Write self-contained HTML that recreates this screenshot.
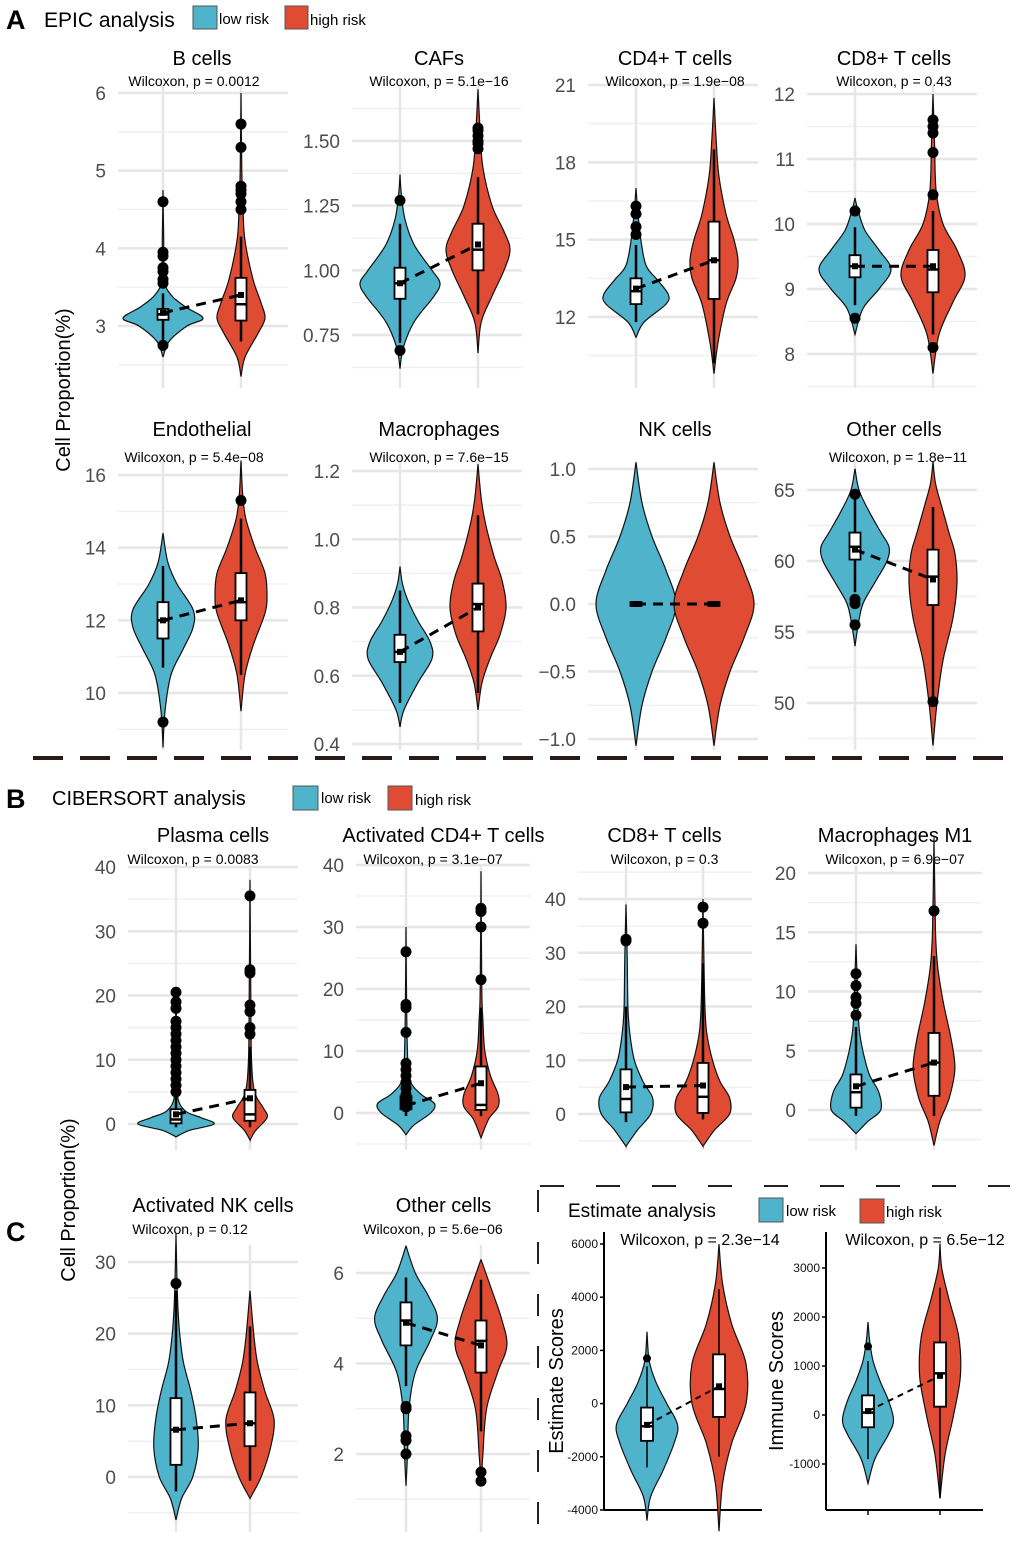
<!DOCTYPE html>
<html><head><meta charset="utf-8">
<style>
html,body{margin:0;padding:0;background:#fff;}
svg{display:block;font-family:"Liberation Sans",Arial,sans-serif;}
</style></head>
<body>
<svg id="fig" width="1020" height="1542" viewBox="0 0 1020 1542" xmlns="http://www.w3.org/2000/svg">
  <g>
    <text x="6" y="29" font-size="27" font-weight="bold">A</text>
    <text x="44" y="27" font-size="21">EPIC  analysis</text>
    <rect x="193" y="6" width="24" height="23" fill="#4eb3cb" stroke="#555" stroke-width="1"/>
    <text x="219" y="24" font-size="15">low risk</text>
    <rect x="285" y="6" width="23" height="23" fill="#e04b33" stroke="#555" stroke-width="1"/>
    <text x="310" y="25" font-size="15">high risk</text>
  </g>
  <text transform="translate(70,390) rotate(-90)" text-anchor="middle" font-size="20">Cell Proportion(%)</text>
  <line x1="33" y1="758" x2="1015" y2="758" stroke="#2a1a1a" stroke-width="4" stroke-dasharray="30 17"/>

  <g>
    <text x="6" y="808" font-size="27" font-weight="bold">B</text>
    <text x="52" y="805" font-size="20">CIBERSORT analysis</text>
    <rect x="293" y="786" width="25" height="24" fill="#4eb3cb" stroke="#555" stroke-width="1"/>
    <text x="321" y="803" font-size="15">low risk</text>
    <rect x="388" y="786" width="24" height="24" fill="#e04b33" stroke="#555" stroke-width="1"/>
    <text x="415" y="805" font-size="15">high risk</text>
  </g>
  <text transform="translate(75,1200) rotate(-90)" text-anchor="middle" font-size="20">Cell Proportion(%)</text>
  <text x="6" y="1241" font-size="27" font-weight="bold">C</text>

  <line x1="540" y1="1186" x2="1010" y2="1186" stroke="#222" stroke-width="2" stroke-dasharray="24 32"/>
  <line x1="538" y1="1190" x2="538" y2="1532" stroke="#222" stroke-width="2" stroke-dasharray="22 30"/>
  <g>
    <text x="568" y="1217" font-size="19">Estimate analysis</text>
    <rect x="759" y="1198" width="24" height="24" fill="#4eb3cb" stroke="#555" stroke-width="1"/>
    <text x="786" y="1216" font-size="15">low risk</text>
    <rect x="860" y="1199" width="24" height="24" fill="#e04b33" stroke="#555" stroke-width="1"/>
    <text x="886" y="1217" font-size="15">high risk</text>
  </g>
  <g id="panels"></g>
</svg>
<script>
const bcells_ticks = [3,4,5,6];
const bcells_low_violin = [[2.6,0],[2.8,0.15],[3.0,0.6],[3.1,1.0],[3.25,0.55],[3.4,0.2],[3.6,0.04],[4.2,0.015],[4.75,0]];
const bcells_high_violin = [[2.35,0],[2.6,0.1],[2.9,0.42],[3.1,0.6],[3.3,0.5],[3.6,0.3],[4.1,0.1],[4.5,0.05],[5.0,0.02],[6.0,0]];
const bcells_low_box = [2.82,3.08,3.15,3.22,3.42];
const bcells_high_box = [2.8,3.07,3.28,3.62,4.15];
const bcells_low_out = [2.75,3.55,3.6,3.7,3.75,3.9,3.95,4.6];
const bcells_high_out = [4.5,4.6,4.7,4.75,4.8,5.3,5.6];
const bcells_means = [3.17,3.4];

const cafs_ticks = [0.75,1.00,1.25,1.50];
const cafs_low_violin = [[0.62,0],[0.7,0.08],[0.8,0.35],[0.9,0.85],[0.95,1.0],[1.0,0.8],[1.1,0.35],[1.2,0.12],[1.3,0.03],[1.37,0]];
const cafs_high_violin = [[0.68,0],[0.8,0.08],[0.9,0.35],[1.0,0.65],[1.08,0.8],[1.15,0.65],[1.25,0.35],[1.4,0.12],[1.55,0.05],[1.7,0]];
const cafs_low_box = [0.72,0.89,0.95,1.01,1.18];
const cafs_high_box = [0.83,1.0,1.08,1.18,1.36];
const cafs_low_out = [0.69,1.27];
const cafs_high_out = [1.47,1.49,1.5,1.52,1.54,1.55];
const cafs_means = [0.95,1.1];

const cd4_ticks = [12,15,18,21];
const cd4_low_violin = [[11.2,0],[11.8,0.2],[12.5,0.75],[12.9,0.8],[13.5,0.5],[14,0.25],[15,0.12],[16,0.05],[17,0]];
const cd4_high_violin = [[9.8,0],[11,0.1],[12.5,0.3],[13.5,0.55],[14.2,0.6],[15,0.5],[16,0.3],[17.5,0.12],[19,0.05],[20.5,0]];
const cd4_low_box = [11.8,12.5,13.0,13.5,14.8];
const cd4_high_box = [10.2,12.7,14.2,15.7,18.5];
const cd4_low_out = [15.2,15.5,16.0,16.3];
const cd4_high_out = [];
const cd4_means = [13.1,14.2];

const cd8_ticks = [8,9,10,11,12];
const cd8_low_violin = [[8.3,0],[8.7,0.2],[9.0,0.6],[9.3,0.9],[9.6,0.6],[9.9,0.25],[10.2,0.08],[10.4,0]];
const cd8_high_violin = [[7.7,0],[8.3,0.15],[8.8,0.5],[9.2,0.8],[9.6,0.6],[10.0,0.25],[10.5,0.08],[11.2,0.04],[12,0]];
const cd8_low_box = [8.75,9.18,9.35,9.52,9.95];
const cd8_high_box = [8.3,8.95,9.3,9.6,10.2];
const cd8_low_out = [8.55,10.2];
const cd8_high_out = [8.1,10.45,11.1,11.4,11.5,11.6];
const cd8_means = [9.35,9.35];

const endo_ticks = [10,12,14,16];
const endo_low_violin = [[8.5,0],[9.5,0.05],[10.5,0.2],[11.2,0.5],[11.8,0.75],[12.3,0.75],[13,0.35],[13.6,0.12],[14.4,0]];
const endo_high_violin = [[9.5,0],[10.5,0.1],[11.3,0.3],[12.2,0.6],[12.7,0.65],[13.3,0.6],[14,0.35],[14.8,0.12],[15.5,0.04],[16.4,0]];
const endo_low_box = [10.7,11.5,12.0,12.5,13.5];
const endo_high_box = [10.5,12.0,12.5,13.3,14.8];
const endo_low_out = [9.2];
const endo_high_out = [15.3];
const endo_means = [12.0,12.55];

const macro_ticks = [0.4,0.6,0.8,1.0,1.2];
const macro_low_violin = [[0.45,0],[0.5,0.1],[0.58,0.45],[0.65,0.8],[0.7,0.75],[0.76,0.45],[0.82,0.2],[0.87,0.06],[0.92,0]];
const macro_high_violin = [[0.5,0],[0.58,0.1],[0.65,0.3],[0.72,0.55],[0.8,0.7],[0.88,0.6],[0.95,0.4],[1.05,0.18],[1.12,0.08],[1.22,0]];
const macro_low_box = [0.52,0.64,0.67,0.72,0.85];
const macro_high_box = [0.55,0.73,0.81,0.87,1.07];
const macro_low_out = [];
const macro_high_out = [];
const macro_means = [0.67,0.8];

const nk_ticks = [-1.0,-0.5,0.0,0.5,1.0];
const nk_low_violin = [[-1.05,0],[-0.75,0.15],[-0.5,0.4],[-0.25,0.75],[0,1.0],[0.25,0.75],[0.5,0.4],[0.75,0.15],[1.05,0]];
const nk_high_violin = [[-1.05,0],[-0.75,0.15],[-0.5,0.4],[-0.25,0.75],[0,1.0],[0.25,0.75],[0.5,0.4],[0.75,0.15],[1.05,0]];
const nk_low_box = [0,0,0,0,0];
const nk_high_box = [0,0,0,0,0];
const nk_low_out = [];
const nk_high_out = [];
const nk_means = [0,0];

const othA_ticks = [50,55,60,65];
const othA_low_violin = [[54,0],[55.5,0.08],[57,0.2],[58.5,0.5],[60,0.8],[61,0.85],[62,0.65],[63.5,0.35],[65,0.1],[66.5,0]];
const othA_high_violin = [[47,0],[50,0.1],[53,0.25],[56,0.5],[58.5,0.6],[60.5,0.55],[62,0.4],[64,0.2],[65.5,0.06],[67,0]];
const othA_low_box = [57.8,60.1,61.0,62.0,64.5];
const othA_high_box = [50.5,56.9,58.9,60.8,63.8];
const othA_low_out = [55.5,57.0,57.3,64.7];
const othA_high_out = [50.1];
const othA_means = [60.8,58.7];

const plasma_ticks = [0,10,20,30,40];
const plasma_low_violin = [[-2,0],[-1,0.35],[0,1.0],[1,0.65],[2,0.25],[4,0.05],[8,0.03],[14,0.015],[21,0]];
const plasma_high_violin = [[-2.5,0],[-1,0.15],[1,0.45],[2.5,0.35],[5,0.12],[10,0.04],[20,0.02],[38,0]];
const plasma_low_box = [-0.5,0.1,0.7,2.3,5];
const plasma_high_box = [-0.5,0.5,1.5,5.3,12];
const plasma_low_out = [5,6,7,8,9,10,11,12,13,14,15,16,18,19,20.5];
const plasma_high_out = [14,15,17.5,18.5,23.5,24,35.5];
const plasma_means = [1.5,4];

const act4_ticks = [0,10,20,30,40];
const act4_low_violin = [[-3.5,0],[-2,0.2],[0,0.65],[1.5,0.75],[3,0.4],[5,0.12],[8,0.05],[15,0.02],[30,0]];
const act4_high_violin = [[-4,0],[-1,0.2],[1,0.45],[3,0.45],[6,0.25],[10,0.1],[15,0.05],[20,0.02],[39,0]];
const act4_low_box = [-0.5,0.6,1.5,2.7,4.5];
const act4_high_box = [-0.5,0.5,1.3,7.5,17];
const act4_low_out = [1,2,3,4,5,6,7,8,13,17,17.5,26];
const act4_high_out = [21.5,30,32.5,33];
const act4_means = [1.2,4.8];

const cd8b_ticks = [0,10,20,30,40];
const cd8b_low_violin = [[-6,0],[-3,0.3],[0,0.65],[3,0.7],[6,0.45],[10,0.22],[15,0.1],[20,0.05],[30,0.03],[39,0]];
const cd8b_high_violin = [[-6,0],[-3,0.3],[0,0.7],[3,0.7],[6,0.45],[10,0.25],[15,0.1],[20,0.05],[30,0.02],[40,0]];
const cd8b_low_box = [-1.5,0.3,2.8,8.3,20];
const cd8b_high_box = [-1,0.2,3.2,9.5,28];
const cd8b_low_out = [32.2,32.5];
const cd8b_high_out = [35.5,38.5];
const cd8b_means = [5,5.3];

const m1_ticks = [0,5,10,15,20];
const m1_low_violin = [[-2,0],[-1,0.3],[0,0.65],[1.5,0.6],[3,0.35],[5,0.18],[7,0.08],[10,0.04],[14,0]];
const m1_high_violin = [[-3,0],[-1,0.15],[1,0.4],[3.5,0.55],[6,0.45],[9,0.25],[12,0.1],[15,0.04],[23,0]];
const m1_low_box = [-0.5,0.2,1.5,3,7];
const m1_high_box = [-0.5,1.2,4,6.5,13];
const m1_low_out = [8,9,9.5,10.5,11.5];
const m1_high_out = [16.8];
const m1_means = [2,4];

const actnk_ticks = [0,10,20,30];
const actnk_low_violin = [[-6,0],[-3,0.15],[0,0.45],[4,0.6],[8,0.55],[12,0.4],[16,0.2],[20,0.1],[25,0.04],[34,0]];
const actnk_high_violin = [[-3,0],[0,0.3],[4,0.55],[8,0.65],[12,0.4],[16,0.2],[20,0.1],[26,0]];
const actnk_low_box = [-2,1.7,6.6,11,26];
const actnk_high_box = [-0.5,4.3,7.5,11.8,21];
const actnk_low_out = [27];
const actnk_high_out = [];
const actnk_means = [6.6,7.5];

const othC_ticks = [2,4,6];
const othC_low_violin = [[1.3,0],[2,0.04],[3,0.08],[3.8,0.25],[4.5,0.65],[5,0.85],[5.5,0.6],[6,0.25],[6.6,0]];
const othC_high_violin = [[1.3,0],[2,0.05],[3,0.15],[3.8,0.45],[4.4,0.7],[5,0.55],[5.6,0.3],[6.3,0]];
const othC_low_box = [3.5,4.4,4.95,5.35,5.9];
const othC_high_box = [2.5,3.8,4.5,4.95,5.85];
const othC_low_out = [2,2.3,2.4,3,3.05];
const othC_high_out = [1.4,1.6];
const othC_means = [4.9,4.4];

const est_ticks = [-4000,-2000,0,2000,4000,6000];
const est_low_violin = [[-4400,0],[-3500,0.1],[-2500,0.45],[-1500,0.75],[-800,0.85],[0,0.55],[800,0.25],[1600,0.06],[2700,0]];
const est_high_violin = [[-4800,0],[-3000,0.1],[-1500,0.35],[0,0.75],[1500,0.75],[3000,0.35],[4500,0.1],[6000,0]];
const est_low_box = [-2400,-1400,-850,-150,1400];
const est_high_box = [-2000,-500,550,1850,4300];
const est_low_out = [1700];
const est_high_out = [];
const est_means = [-800,650];

const imm_ticks = [-1000,0,1000,2000,3000];
const imm_low_violin = [[-1400,0],[-900,0.2],[-400,0.6],[-100,0.75],[300,0.6],[700,0.35],[1100,0.15],[1500,0.05],[1900,0]];
const imm_high_violin = [[-1700,0],[-800,0.15],[0,0.4],[800,0.6],[1600,0.55],[2400,0.25],[3000,0.05],[3500,0]];
const imm_low_box = [-900,-250,50,400,1100];
const imm_high_box = [-1700,170,850,1480,2600];
const imm_low_out = [1400];
const imm_high_out = [];
const imm_means = [80,800];

const NS='http://www.w3.org/2000/svg';
const root=document.getElementById('panels');
const BLUE='#4eb3cb', RED='#e04b33';
function el(tag,attrs,parent){const e=document.createElementNS(NS,tag);for(const k in attrs)e.setAttribute(k,attrs[k]);(parent||root).appendChild(e);return e;}
function fmt(t,dec){return t<0?'\u2212'+Math.abs(t).toFixed(dec):t.toFixed(dec);}
function smoothPath(pts){
  let d='M'+pts[0][0]+','+pts[0][1];
  for(let i=0;i<pts.length-1;i++){
    const p0=pts[i-1]||pts[i],p1=pts[i],p2=pts[i+1],p3=pts[i+2]||p2;
    const c1=[p1[0]+(p2[0]-p0[0])/6,p1[1]+(p2[1]-p0[1])/6];
    const c2=[p2[0]-(p3[0]-p1[0])/6,p2[1]-(p3[1]-p1[1])/6];
    d+=' C'+c1[0].toFixed(1)+','+c1[1].toFixed(1)+' '+c2[0].toFixed(1)+','+c2[1].toFixed(1)+' '+p2[0].toFixed(1)+','+p2[1].toFixed(1);
  }
  return d;
}
function panel(cfg){
  const g=el('g',{});
  
  
  const t=cfg.ticks;
  const y=v=>cfg.yBot+(v-t[0])*(cfg.yTop-cfg.yBot)/(t[t.length-1]-t[0]);
  const step=t[1]-t[0];
  if(cfg.classic){
    const ax=el('line',{x1:cfg.x0,y1:cfg.gTop,x2:cfg.x0,y2:cfg.gBot,stroke:'#000','stroke-width':2},g);
    
    
    const bx=el('line',{x1:cfg.x0,y1:cfg.gBot,x2:cfg.x1,y2:cfg.gBot,stroke:'#000','stroke-width':2},g);
    
    
    t.forEach(v=>{
      el('line',{x1:cfg.x0-4,y1:y(v),x2:cfg.x0,y2:y(v),stroke:'#000','stroke-width':1.5},g);
      const tl=el('text',{x:cfg.x0-6,y:y(v)+4,'text-anchor':'end','font-size':12,fill:'#111'},g);
      tl.textContent=(v<0?'-':'')+Math.abs(v);
      
      
    });
    [cfg.cxL,cfg.cxH].forEach(c=>el('line',{x1:c,y1:cfg.gBot,x2:c,y2:cfg.gBot+5,stroke:'#000','stroke-width':1.5},g));
    const yt=el('text',{transform:'translate('+cfg.ytX+','+((cfg.gTop+cfg.gBot)/2+10)+') rotate(-90)','text-anchor':'middle','font-size':20},g);
    yt.textContent=cfg.ytitle;
    
    
  } else {
    for(let v=t[0]-step/2; v<=t[t.length-1]+step/2+1e-9; v+=step){
      const yy=y(v); if(yy<cfg.gTop||yy>cfg.gBot) continue;
      el('line',{x1:cfg.x0,y1:yy,x2:cfg.x1,y2:yy,stroke:'#f0f0f0','stroke-width':1.5},g);
    }
    t.forEach(v=>{
      const gl=el('line',{x1:cfg.x0,y1:y(v),x2:cfg.x1,y2:y(v),stroke:'#e6e6e6','stroke-width':2.5},g);
      
      
      const tl=el('text',{x:cfg.x0-12,y:y(v)+7,'text-anchor':'end','font-size':19,fill:'#4d4d4d'},g);
      tl.textContent=fmt(v,cfg.dec);
      
      
    });
    [cfg.cxL,cfg.cxH].forEach(c=>el('line',{x1:c,y1:cfg.gTop,x2:c,y2:cfg.gBot,stroke:'#e6e6e6','stroke-width':2.5},g));
    const ti=el('text',{x:(cfg.cxL+cfg.cxH)/2,y:cfg.titleY,'text-anchor':'middle','font-size':20},g);
    ti.textContent=cfg.title;
    
    
  }
  if(cfg.p){
    const pt=el('text',{x:cfg.pX||(cfg.cxL+cfg.cxH)/2,y:cfg.pY,'text-anchor':'middle','font-size':cfg.classic?16:14},g);
    pt.textContent='Wilcoxon, p = '+cfg.p;
    
    
  }
  const groups=[[cfg.cxL,cfg.lowV,cfg.lowB,cfg.lowO,BLUE,'low'],[cfg.cxH,cfg.highV,cfg.highB,cfg.highO,RED,'high']];
  groups.forEach(([cx,V,B,O,col,nm])=>{
    const right=V.map(s=>[cx+s[1]*cfg.W,y(s[0])]);
    const left=V.slice().reverse().map(s=>[cx-s[1]*cfg.W,y(s[0])]);
    const d=smoothPath(right)+' '+smoothPath(left).replace('M','L')+' Z';
    const vp=el('path',{d:d,fill:col,stroke:'#111','stroke-width':1.2},g);
    
    
    el('line',{x1:cx,y1:y(B[0]),x2:cx,y2:y(B[4]),stroke:'#000','stroke-width':cfg.classic?1.5:2.5},g);
    const bw=cfg.classic?12:11;
    const bh=Math.max(y(B[1])-y(B[3]),4);
    const br=el('rect',{x:cx-bw/2,y:Math.min(y(B[3]),y(B[2])-2),width:bw,height:bh,fill:'#fff',stroke:'#000','stroke-width':1.8},g);
    
    
    el('line',{x1:cx-bw/2,y1:y(B[2]),x2:cx+bw/2,y2:y(B[2]),stroke:'#000','stroke-width':2.5},g);
    O.forEach(o=>{
      const c=el('circle',{cx:cx,cy:y(o),r:cfg.classic?4:5.5,fill:'#000'},g);
      
      
    });
  });
  const ml=el('line',{x1:cfg.cxL,y1:y(cfg.means[0]),x2:cfg.cxH,y2:y(cfg.means[1]),stroke:'#000','stroke-width':cfg.classic?2:3,'stroke-dasharray':cfg.classic?'6 5':'10 7'},g);
  
  
  cfg.means.forEach((m,i)=>el('rect',{x:[cfg.cxL,cfg.cxH][i]-3,y:y(m)-3,width:6,height:6,fill:'#000'},g));
}
function P(id,title,p,ticks,dec,pre,layout){
  panel(Object.assign({id,title,p,ticks,dec,
    lowV:eval(pre+'_low_violin'),highV:eval(pre+'_high_violin'),
    lowB:eval(pre+'_low_box'),highB:eval(pre+'_high_box'),
    lowO:eval(pre+'_low_out'),highO:eval(pre+'_high_out'),means:eval(pre+'_means')},layout));
}
const rowA1={gTop:85,gBot:388,titleY:65,pY:86,W:40};
const rowA2={gTop:462,gBot:750,titleY:436,pY:462,W:40};
const rowB={gTop:865,gBot:1150,titleY:842,pY:864,W:38};
const rowC={gTop:1245,gBot:1532,titleY:1212,pY:1234,W:37};
P('b-cells','B cells','0.0012',bcells_ticks,0,'bcells',Object.assign({},rowA1,{x0:118,x1:288,cxL:163,cxH:241,yBot:326,yTop:93,pX:194}));
P('cafs','CAFs','5.1e\u221216',cafs_ticks,2,'cafs',Object.assign({},rowA1,{x0:352,x1:522,cxL:400,cxH:478,yBot:335,yTop:141}));
P('cd4-t-cells','CD4+ T cells','1.9e\u221208',cd4_ticks,0,'cd4',Object.assign({},rowA1,{x0:588,x1:758,cxL:636,cxH:714,yBot:317,yTop:85}));
P('cd8-t-cells','CD8+ T cells','0.43',cd8_ticks,0,'cd8',Object.assign({},rowA1,{x0:807,x1:977,cxL:855,cxH:933,yBot:354,yTop:94}));
P('endothelial','Endothelial','5.4e\u221208',endo_ticks,0,'endo',Object.assign({},rowA2,{x0:118,x1:288,cxL:163,cxH:241,yBot:693,yTop:475,pX:194}));
P('macrophages','Macrophages','7.6e\u221215',macro_ticks,1,'macro',Object.assign({},rowA2,{x0:352,x1:522,cxL:400,cxH:478,yBot:744,yTop:471}));
P('nk-cells','NK cells','',nk_ticks,1,'nk',Object.assign({},rowA2,{x0:588,x1:758,cxL:636,cxH:714,yBot:739,yTop:469}));
P('other-cells-epic','Other cells','1.8e\u221211',othA_ticks,0,'othA',Object.assign({},rowA2,{x0:807,x1:977,cxL:855,cxH:933,yBot:703,yTop:490,pX:898}));
P('plasma-cells','Plasma cells','0.0083',plasma_ticks,0,'plasma',Object.assign({},rowB,{x0:128,x1:298,cxL:176,cxH:250,yBot:1124,yTop:867,pX:193}));
P('activated-cd4-t-cells','Activated CD4+ T cells','3.1e\u221207',act4_ticks,0,'act4',Object.assign({},rowB,{x0:356,x1:530,cxL:406,cxH:481,yBot:1113,yTop:865,pX:433}));
P('cd8-t-cells-cibersort','CD8+ T cells','0.3',cd8b_ticks,0,'cd8b',Object.assign({},rowB,{x0:578,x1:752,cxL:626,cxH:703,yBot:1114,yTop:899}));
P('macrophages-m1','Macrophages M1','6.9e\u221207',m1_ticks,0,'m1',Object.assign({},rowB,{x0:808,x1:982,cxL:856,cxH:934,yBot:1110,yTop:873}));
P('activated-nk-cells','Activated NK cells','0.12',actnk_ticks,0,'actnk',Object.assign({},rowC,{x0:128,x1:298,cxL:176,cxH:250,yBot:1477,yTop:1262,pX:190}));
P('other-cells-cibersort','Other cells','5.6e\u221206',othC_ticks,0,'othC',Object.assign({},rowC,{x0:356,x1:530,cxL:406,cxH:481,yBot:1454,yTop:1273,pX:433}));
P('estimate-scores','','2.3e\u221214',est_ticks,0,'est',{classic:true,x0:604,x1:762,cxL:647,cxH:719,yBot:1510,yTop:1244,gTop:1232,gBot:1510,W:36,pY:1245,pX:700,ytX:563,ytitle:'Estimate Scores'});
P('immune-scores','','6.5e\u221212',imm_ticks,0,'imm',{classic:true,x0:826,x1:983,cxL:868,cxH:940,yBot:1464,yTop:1268,gTop:1232,gBot:1510,W:34,pY:1245,pX:925,ytX:783,ytitle:'Immune Scores'});
</script>
</body></html>
